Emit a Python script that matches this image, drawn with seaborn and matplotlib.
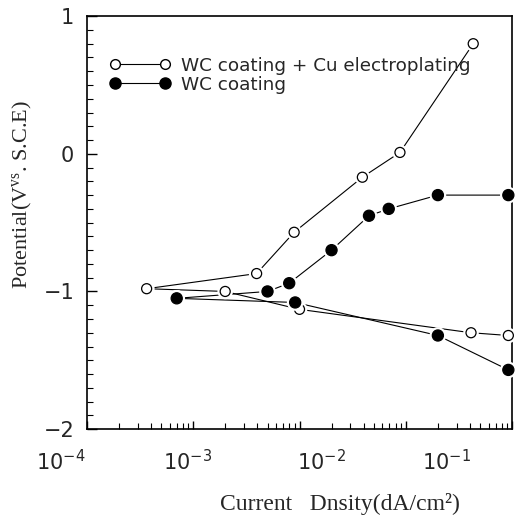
import numpy as np
import pandas as pd
import matplotlib
matplotlib.use("Agg")
import matplotlib.pyplot as plt
import matplotlib.patheffects as pe
import matplotlib.transforms as mtransforms
from matplotlib.lines import Line2D
from matplotlib.ticker import MultipleLocator, FixedLocator, LogLocator, NullFormatter
import seaborn as sns

sns.set_style("white")
plt.rcParams['font.family'] = ['DejaVu Sans']
plt.rcParams['axes.unicode_minus'] = True

# polarisation data (current in dA/cm^2, potential in V vs SCE)
cu_anodic_x = [3.65e-4, 3.95e-3, 8.9e-3, 0.039, 0.088, 0.43]
cu_anodic_y = [-0.98, -0.87, -0.57, -0.17, 0.01, 0.80]
cu_cathodic_x = [3.65e-4, 2.0e-3, 1.0e-2, 0.41, 0.92]
cu_cathodic_y = [-0.98, -1.00, -1.13, -1.30, -1.32]

wc_anodic_x = [7.0e-4, 5.0e-3, 8.0e-3, 0.020, 0.045, 0.069, 0.20, 0.92]
wc_anodic_y = [-1.05, -1.00, -0.94, -0.70, -0.45, -0.40, -0.30, -0.30]
wc_cathodic_x = [7.0e-4, 9.1e-3, 0.20, 0.92]
wc_cathodic_y = [-1.05, -1.08, -1.32, -1.57]

series_labels = ["WC coating + Cu electroplating", "WC coating"]
xtick_values = [1e-4, 1e-3, 1e-2, 1e-1, 1.0]
xtick_labels = [r"$\mathregular{10^{-4}}$", r"$\mathregular{10^{-3}}$",
                r"$\mathregular{10^{-2}}$", r"$\mathregular{10^{-1}}$", ""]
ytick_values = [-2, -1, 0, 1]

fig = plt.figure(figsize=(5.2, 5.22), dpi=100)
ax = fig.add_axes([0.167, 0.178, 0.818, 0.791])

halo = [pe.Stroke(linewidth=4, foreground="white"), pe.Normal()]


def branch(xs, ys, filled):
    sns.lineplot(x=xs, y=ys, sort=False, estimator=None, color="black",
                 lw=0.8, ax=ax, zorder=1)
    sns.scatterplot(x=xs, y=ys, marker="o", s=64 if filled else 52,
                    facecolor="black" if filled else "white",
                    edgecolor="black", linewidth=0.9, ax=ax, zorder=3,
                    clip_on=False)
    ax.collections[-1].set_path_effects(halo)


branch(cu_anodic_x, cu_anodic_y, False)
branch(cu_cathodic_x, cu_cathodic_y, False)
branch(wc_anodic_x, wc_anodic_y, True)
branch(wc_cathodic_x, wc_cathodic_y, True)

ax.set_xscale("log")
ax.set_xlim(1e-4, 1)
ax.set_ylim(-2, 1)

ax.xaxis.set_major_locator(FixedLocator(xtick_values))
ax.set_xticklabels(xtick_labels)
ax.xaxis.set_minor_locator(LogLocator(base=10, subs=np.arange(2, 10)))
ax.xaxis.set_minor_formatter(NullFormatter())
ax.set_yticks(ytick_values)
ax.yaxis.set_minor_locator(MultipleLocator(0.1))

ax.tick_params(which="both", direction="in", top=False, right=False,
               bottom=True, left=True, labelsize=15, color="black")
ax.tick_params(axis="x", which="major", length=6, width=1, pad=14)
ax.tick_params(axis="y", which="major", length=7, width=1, pad=9)
ax.tick_params(which="minor", length=4, width=0.8)

# the old plotting package spread its decade labels a little wider than the ticks
label_shift_px = [-26, -6, 22, 41, 0]
for lab, dx in zip(ax.get_xticklabels(), label_shift_px):
    lab.set_transform(lab.get_transform() +
                      mtransforms.ScaledTranslation(dx / 100, 0, fig.dpi_scale_trans))

for s in ax.spines.values():
    s.set_color("black")
    s.set_linewidth(1.2)

ax.set_xlabel("Current   Dnsity(dA/cm²)", family="Liberation Serif", fontsize=17)
ax.set_ylabel(r"Potential(V$\mathregular{^{vs}}$. S.C.E)", family="Liberation Serif",
              fontsize=16)
ax.xaxis.set_label_coords(0.595, -0.155)
ax.yaxis.set_label_coords(-0.125, 0.567)

handles = [
    Line2D([], [], color="black", lw=0.8, marker="o", markersize=7,
           markerfacecolor="white", markeredgecolor="black"),
    Line2D([], [], color="black", lw=0.8, marker="o", markersize=8,
           markerfacecolor="black", markeredgecolor="black"),
]
ax.legend(handles, series_labels, loc="upper left", bbox_to_anchor=(0.054, 0.902),
          frameon=False, numpoints=2, handlelength=3.3, handletextpad=0.6,
          labelspacing=0.05, fontsize=13.2, borderaxespad=0, borderpad=0)

fig.savefig("out.png", dpi=100, facecolor="white")
